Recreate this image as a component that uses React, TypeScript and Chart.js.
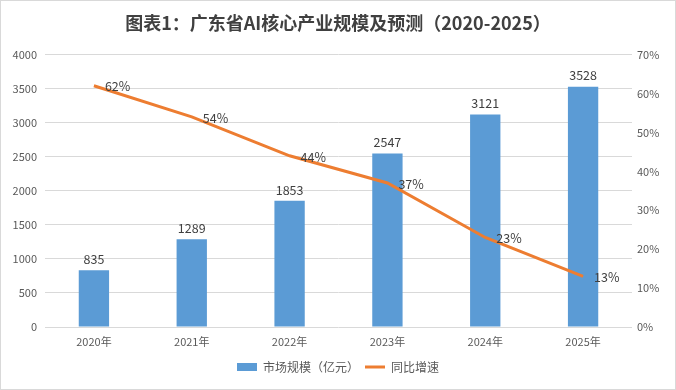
import React, { useEffect, useRef } from "react";
import { Chart, registerables } from "chart.js";

Chart.register(...registerables);

const titleText = "图表1：广东省AI核心产业规模及预测（2020-2025）";
const categories = ["2020年", "2021年", "2022年", "2023年", "2024年", "2025年"];
const marketSize = [835, 1289, 1853, 2547, 3121, 3528];
const growthRate = [62, 54, 44, 37, 23, 13];
const barLabel = "市场规模（亿元）";
const lineLabel = "同比增速";

const FONT = "'Noto Sans CJK SC', 'Noto Sans', sans-serif";
const TEXT = "#595959";

const labelPlugin = {
  id: "valueLabels",
  afterDatasetsDraw(chart: any) {
    const ctx = chart.ctx;
    ctx.save();
    ctx.font = `12.5px ${FONT}`;
    ctx.fillStyle = "#404040";
    const barMeta = chart.getDatasetMeta(0);
    barMeta.data.forEach((el: any, i: number) => {
      ctx.textAlign = "center";
      ctx.textBaseline = "middle";
      ctx.fillText(String(marketSize[i]), el.x, el.y - 11);
    });
    const lineMeta = chart.getDatasetMeta(1);
    lineMeta.data.forEach((el: any, i: number) => {
      ctx.textAlign = "left";
      ctx.textBaseline = "middle";
      ctx.fillText(growthRate[i] + "%", el.x + 11, el.y + 1);
    });
    ctx.restore();
  },
};

export default function App() {
  const ref = useRef<HTMLCanvasElement | null>(null);
  useEffect(() => {
    if (!ref.current) return;
    const chart = new Chart(ref.current, {
      type: "bar",
      data: {
        labels: categories,
        datasets: [
          {
            type: "bar",
            label: barLabel,
            data: marketSize,
            backgroundColor: "#5B9BD5",
            borderWidth: 0,
            barPercentage: 0.62,
            categoryPercentage: 0.5,
            yAxisID: "y",
            order: 2,
            pointStyle: "rect",
          } as any,
          {
            type: "line",
            label: lineLabel,
            data: growthRate,
            borderColor: "#ED7D31",
            backgroundColor: "#ED7D31",
            borderWidth: 3,
            pointRadius: 0,
            tension: 0,
            yAxisID: "y1",
            order: 1,
            pointStyle: "line",
          } as any,
        ],
      },
      options: {
        animation: false,
        responsive: false,
        maintainAspectRatio: false,
        layout: { padding: { left: 0, right: 0, top: 0, bottom: 6 } },
        plugins: {
          title: {
            display: true,
            text: titleText,
            color: "#404040",
            font: { family: FONT, size: 18, weight: "bold" },
            padding: { top: 11, bottom: 21 },
          },
          legend: {
            display: true,
            position: "bottom",
            labels: {
              usePointStyle: true,
              boxHeight: 8,
              pointStyleWidth: 20,
              color: TEXT,
              font: { family: FONT, size: 12 },
              padding: 6,
              sort: (a: any, b: any) => a.datasetIndex - b.datasetIndex,
            },
          },
          tooltip: { enabled: false },
        },
        scales: {
          x: {
            grid: { display: false, drawTicks: false },
            border: { display: false },
            ticks: { color: TEXT, font: { family: FONT, size: 11 }, padding: 8 },
            afterFit(scale: any) {
              scale.height = 28;
            },
          },
          y: {
            position: "left",
            min: 0,
            max: 4000,
            ticks: {
              stepSize: 500,
              color: TEXT,
              font: { family: FONT, size: 11 },
              padding: 8,
              callback: (v: any) => String(v),
            },
            grid: { color: "#D9D9D9", drawTicks: false },
            border: { display: false },
            afterFit(scale: any) {
              scale.width = 44;
            },
          },
          y1: {
            position: "right",
            min: 0,
            max: 70,
            ticks: {
              stepSize: 10,
              color: TEXT,
              font: { family: FONT, size: 11 },
              padding: 5,
              callback: (v: any) => v + "%",
            },
            grid: { display: false, drawTicks: false },
            border: { display: false },
            afterFit(scale: any) {
              scale.width = 43;
            },
          },
        },
      },
      plugins: [labelPlugin],
    });
    return () => chart.destroy();
  }, []);
  return (
    <div
      style={{
        position: "fixed",
        left: 0,
        top: 0,
        width: 676,
        height: 390,
        background: "#fff",
        boxSizing: "border-box",
        border: "1px solid #D9D9D9",
      }}
    >
      <canvas ref={ref} width={674} height={388} style={{ display: "block" }} />
    </div>
  );
}
